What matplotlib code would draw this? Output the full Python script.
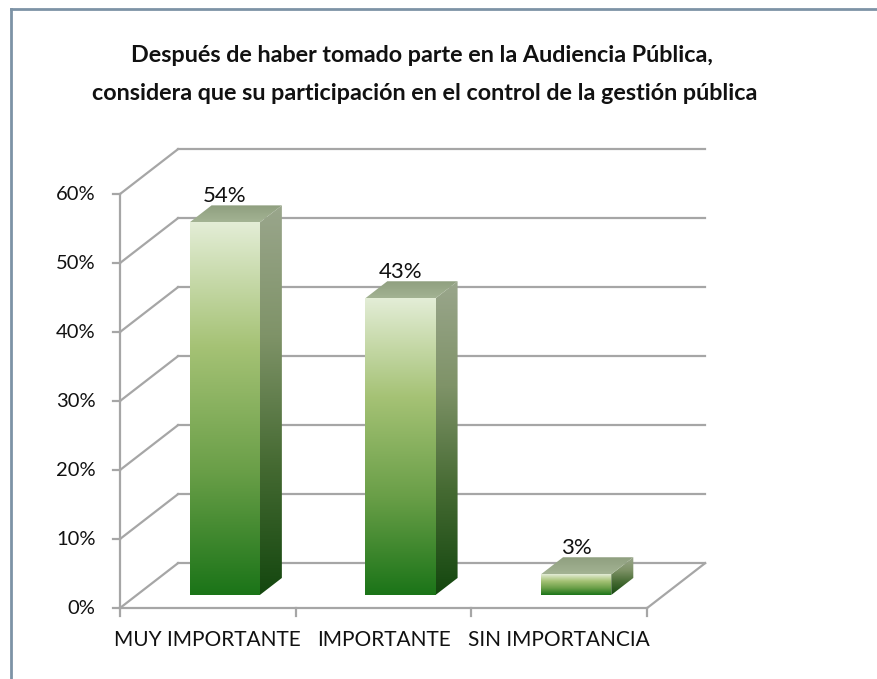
import numpy as np
import matplotlib.pyplot as plt
from matplotlib.colors import LinearSegmentedColormap
from matplotlib.patches import Polygon
from matplotlib.lines import Line2D

categories = ['MUY IMPORTANTE', 'IMPORTANTE', 'SIN IMPORTANCIA']
values = [54, 43, 3]
yticks = [0, 10, 20, 30, 40, 50, 60]
title1 = 'Después de haber tomado parte en la Audiencia Pública,'
title2 = 'considera que su participación en el control de la gestión pública'

plt.rcParams['font.family'] = ['Lato', 'DejaVu Sans']

# oblique "3D" look: back wall offset, in category / percent units
DX, DY = 0.33, 6.5
F0, F1 = 0.29, 0.67   # depth fraction of bar front / back faces
BW = 0.4
grid_c = '#a6a6a6'

front_cm = LinearSegmentedColormap.from_list('front', ['#1b7418', '#6a9f48', '#a5c275', '#e3edd6'])
side_cm = LinearSegmentedColormap.from_list('side', ['#14470f', '#456a32', '#7f9368', '#9aa68c'])
top_cm = LinearSegmentedColormap.from_list('top', ['#a3b393', '#8e9e7e'])

fig = plt.figure(figsize=(8.77, 6.79), dpi=100)
ax = fig.add_axes([0, 0, 1, 1])
ax.set_xlim(-0.683, 4.308)
ax.set_ylim(-10.29, 88.12)
ax.axis('off')


def grad_fill(xy, cmap, z):
    xs = [p[0] for p in xy]
    ys = [p[1] for p in xy]
    poly = Polygon(xy, closed=True, facecolor='none', edgecolor='none', zorder=z)
    ax.add_patch(poly)
    g = np.linspace(1, 0, 256).reshape(-1, 1)
    im = ax.imshow(g, cmap=cmap, aspect='auto', zorder=z, interpolation='bilinear',
                   extent=(min(xs), max(xs), min(ys), max(ys)))
    im.set_clip_path(poly)


n = len(categories)
# back wall and left wall grid
for v in yticks:
    ax.plot([DX, n + DX], [v + DY, v + DY], color=grid_c, lw=1.6, zorder=1)
    ax.plot([0, DX], [v, v + DY], color=grid_c, lw=1.6, zorder=1)
    ax.plot([-0.04, 0], [v, v], color=grid_c, lw=1.6, zorder=1)
    ax.text(-0.14, v, f'{v}%', ha='right', va='center', fontsize=14.5, color='#111111')
ax.plot([0, 0], [0, yticks[-1]], color=grid_c, lw=1.6, zorder=1)
# floor
ax.plot([0, n], [0, 0], color=grid_c, lw=1.6, zorder=1)
ax.plot([n, n + DX], [0, DY], color=grid_c, lw=1.6, zorder=1)
for i in range(n + 1):
    ax.plot([i, i], [0, -1.2], color=grid_c, lw=1.6, zorder=1)
for i, c in enumerate(categories):
    ax.text(i + 0.5, -4.6, c, ha='center', va='center', fontsize=15, color='#111111')

# bars
ddx, ddy = (F1 - F0) * DX, (F1 - F0) * DY
for i, v in enumerate(values):
    x0 = i + 0.5 - BW / 2 + F0 * DX
    x1 = x0 + BW
    y0 = F0 * DY
    y1 = v + F0 * DY
    grad_fill([(x0, y0), (x1, y0), (x1, y1), (x0, y1)], front_cm, 3)
    grad_fill([(x1, y0), (x1 + ddx, y0 + ddy), (x1 + ddx, y1 + ddy), (x1, y1)], side_cm, 3)
    grad_fill([(x0, y1), (x1, y1), (x1 + ddx, y1 + ddy), (x0 + ddx, y1 + ddy)], top_cm, 3)
    ax.text(x0 + BW / 2, y1 + ddy + 1.4, f'{v}%', ha='center', va='center',
            fontsize=16, color='#111111', zorder=5)

fig.text(422 / 877, 1 - 55 / 679, title1, ha='center', va='center', fontsize=16.8,
         fontweight='bold', color='#111111')
fig.text(425 / 877, 1 - 93 / 679, title2, ha='center', va='center', fontsize=16.8,
         fontweight='bold', color='#111111')

# chart frame
fig.add_artist(Line2D([11 / 877, 11 / 877], [0, 1 - 9 / 679], transform=fig.transFigure,
                      color='#7d93a6', lw=2))
fig.add_artist(Line2D([11 / 877, 1], [1 - 9 / 679, 1 - 9 / 679], transform=fig.transFigure,
                      color='#7d93a6', lw=2))

fig.savefig('out.png', dpi=100)
